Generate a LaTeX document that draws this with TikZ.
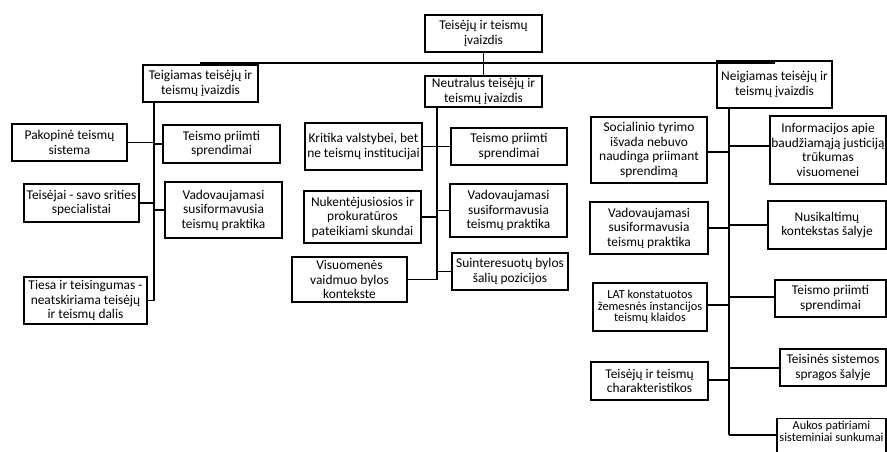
\documentclass[tikz,border=0pt]{standalone}
\usepackage{fontspec}
\setmainfont{Carlito}
\begin{document}
\begin{tikzpicture}[x=1pt,y=-1pt,
  box/.style={draw, line width=1.4pt, inner sep=0pt, align=center, fill=white,
    font=\fontsize{13.4}{14.5}\selectfont},
  smallbox/.style={box, font=\fontsize{12.3}{11.6}\selectfont},
  lk/.style={line width=1.5pt}]
\useasboundingbox (0,0) rectangle (887,451);
% level 0/1
\node[box, minimum width=117pt, minimum height=37pt] (top) at (483.5,33.5) {Teisėjų ir teismų\\įvaizdis};
\node[box, minimum width=115pt, minimum height=37pt] (teig) at (200.5,83.5) {Teigiamas teisėjų ir\\teismų įvaizdis};
\node[box, minimum width=117pt, minimum height=31pt] (neu) at (483.5,91.5) {Neutralus teisėjų ir\\teismų įvaizdis};
\node[box, minimum width=115pt, minimum height=47pt] (neg) at (774.5,84.5) {Neigiamas teisėjų ir\\teismų įvaizdis};
\coordinate (bus) at (0,63);
\draw[lk] (teig.north) -- (teig.north |- bus) -- (neg.north |- bus) -- (neg.north);
\draw[lk] (top.south) -- (neu.north);
% positive branch
\coordinate (tL) at (154,0);
\node[box, minimum width=115pt, minimum height=37pt] (L1) at (69.5,142.5) {Pakopinė teismų\\sistema};
\node[box, minimum width=117pt, minimum height=38pt] (R1) at (221.5,144) {Teismo priimti\\sprendimai};
\node[box, minimum width=115pt, minimum height=38pt] (L2) at (81.5,203) {Teisėjai - savo srities\\specialistai};
\node[box, minimum width=117pt, minimum height=56pt] (R2) at (223.5,210) {Vadovaujamasi\\susiformavusia\\teismų praktika};
\node[box, minimum width=123pt, minimum height=47pt] (L3) at (85.5,300.5) {Tiesa ir teisingumas -\\neatskiriama teisėjų\\ir teismų dalis};
\draw[lk] (teig.south -| tL) -- (L3.east -| tL);
\foreach \n in {L1,L2,L3} \draw[lk] (\n.east) -- (\n.east -| tL);
\foreach \n in {R1,R2} \draw[lk] (\n.west) -- (\n.west -| tL);
% neutral branch
\coordinate (tN) at (437,0);
\node[box, minimum width=117pt, minimum height=47pt] (NL1) at (363.5,146.5) {Kritika valstybei, bet\\ne teismų institucijai};
\node[box, minimum width=116pt, minimum height=37pt] (NR1) at (509,146.5) {Teismo priimti\\sprendimai};
\node[box, minimum width=117pt, minimum height=52pt] (NL2) at (362.5,217) {Nukentėjusiosios ir\\prokuratūros\\pateikiami skundai};
\node[box, minimum width=117pt, minimum height=53pt] (NR2) at (508.5,210.5) {Vadovaujamasi\\susiformavusia\\teismų praktika};
\node[box, minimum width=115pt, minimum height=45pt] (NL3) at (349.5,279.5) {Visuomenės\\vaidmuo bylos\\kontekste};
\node[box, minimum width=116pt, minimum height=37pt] (NR3) at (510,271.5) {Suinteresuotų bylos\\šalių pozicijos};
\draw[lk] (neu.south -| tN) -- (NL3.east -| tN);
\foreach \n in {NL1,NL2,NL3} \draw[lk] (\n.east) -- (\n.east -| tN);
\foreach \n in {NR1,NR2,NR3} \draw[lk] (\n.west) -- (\n.west -| tN);
% negative branch
\coordinate (tG) at (729,0);
\node[box, minimum width=116pt, minimum height=66pt] (GL1) at (649,150) {Socialinio tyrimo\\išvada nebuvo\\naudinga priimant\\sprendimą};
\node[box, minimum width=116pt, minimum height=68pt, font=\fontsize{13.4}{14.8}\selectfont] (GR1) at (828,150) {Informacijos apie\\baudžiamąją justiciją\\trūkumas\\visuomenei};
\node[box, minimum width=118pt, minimum height=52pt] (GL2) at (649,228) {Vadovaujamasi\\susiformavusia\\teismų praktika};
\node[box, minimum width=118pt, minimum height=48pt] (GR2) at (827,225) {Nusikaltimų\\kontekstas šalyje};
\node[smallbox, minimum width=114pt, minimum height=48pt] (GL3) at (650,307) {LAT konstatuotos\\žemesnės instancijos\\teismų klaidos};
\node[box, minimum width=111pt, minimum height=37pt] (GR3) at (830.5,298.5) {Teismo priimti\\sprendimai};
\node[box, minimum width=117pt, minimum height=38pt] (GL4) at (649.5,381) {Teisėjų ir teismų\\charakteristikos};
\node[box, minimum width=106pt, minimum height=37pt] (GR4) at (833,367.5) {Teisinės sistemos\\spragos šalyje};
\node[smallbox, minimum width=109pt, minimum height=42pt, anchor=north] (GR5) at (831.5,418) {\rule{0pt}{10pt}Aukos patiriami\\sisteminiai sunkumai\\[7pt]};
\draw[lk] (neg.south -| tG) -- (0,435 -| tG);
\draw[lk] (GL1.east |- 0,152) -- (0,152 -| tG);
\draw[lk] (GR1.west |- 0,146) -- (0,146 -| tG);
\draw[lk] (GL2.east) -- (GL2.east -| tG);
\draw[lk] (GR2.west) -- (GR2.west -| tG);
\draw[lk] (GL3.east |- 0,305) -- (0,305 -| tG);
\draw[lk] (GR3.west |- 0,297) -- (0,297 -| tG);
\draw[lk] (GL4.east |- 0,380) -- (0,380 -| tG);
\draw[lk] (GR4.west |- 0,368) -- (0,368 -| tG);
\draw[lk] (GR5.west |- 0,435) -- (0,435 -| tG);
\end{tikzpicture}
\end{document}
